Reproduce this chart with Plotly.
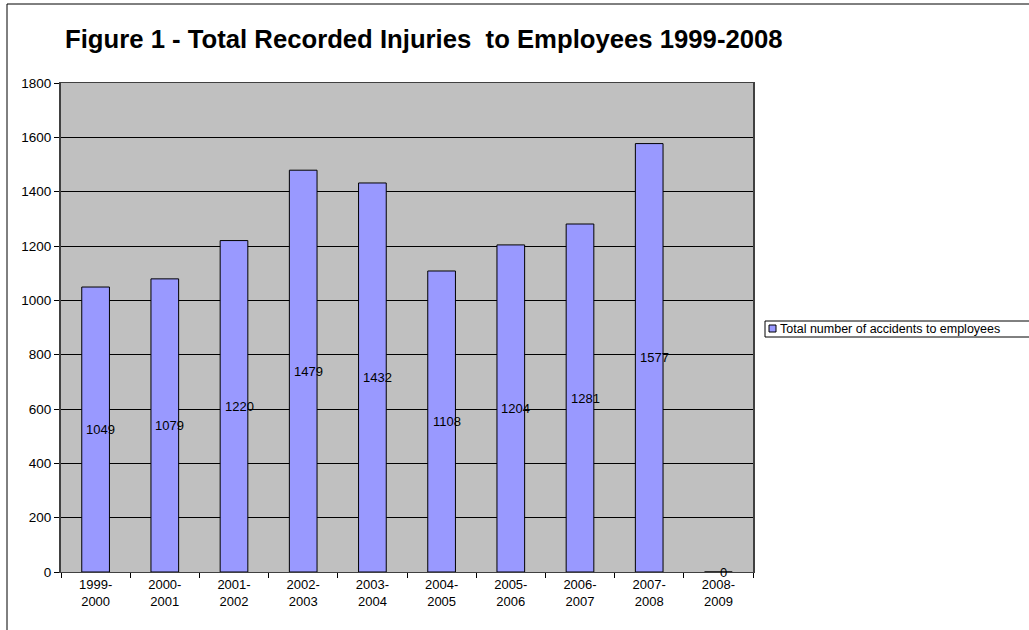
import plotly.graph_objects as go

# Reporting years and recorded injury totals
years = ["1999-<br>2000", "2000-<br>2001", "2001-<br>2002", "2002-<br>2003", "2003-<br>2004",
         "2004-<br>2005", "2005-<br>2006", "2006-<br>2007", "2007-<br>2008", "2008-<br>2009"]
injuries = [1049, 1079, 1220, 1479, 1432, 1108, 1204, 1281, 1577, 0]
y_ticks = [0, 200, 400, 600, 800, 1000, 1200, 1400, 1600, 1800]
series_name = "Total number of accidents to employees"

FONT = "Liberation Sans, Arial, sans-serif"
BAR_COLOR = "#9999FF"

# Plot-area geometry in pixels
W, H = 1029, 630
L, R, T, B = 61, 753, 83, 572
PW, PH = R - L, B - T


def px(x):
    return (x - L) / PW


def py(y):
    return (B - y) / PH


fig = go.Figure()
fig.add_trace(go.Bar(
    x=years, y=injuries, name=series_name, showlegend=False,
    marker=dict(color=BAR_COLOR, line=dict(color="black", width=1)),
    width=0.4,
))

# Value labels at the middle of each bar
for cat, val in zip(years, injuries):
    fig.add_annotation(x=cat, y=val / 2, text=str(val), showarrow=False,
                       xshift=5, font=dict(family=FONT, size=13, color="black"))

# Outer chart frame
fig.add_shape(type="rect", xref="paper", yref="paper",
              x0=px(7), x1=px(1040), y0=py(640), y1=py(4),
              line=dict(color="black", width=1), fillcolor="rgba(0,0,0,0)", layer="below")

# Legend: box, swatch and label
fig.add_shape(type="rect", xref="paper", yref="paper",
              x0=px(765), x1=px(1040), y0=py(337), y1=py(321),
              line=dict(color="black", width=1), fillcolor="white")
fig.add_shape(type="rect", xref="paper", yref="paper",
              x0=px(769), x1=px(776), y0=py(332), y1=py(325),
              line=dict(color="black", width=1), fillcolor=BAR_COLOR)
fig.add_annotation(xref="paper", yref="paper", x=px(778), y=py(329),
                   xanchor="left", yanchor="middle", text=series_name, showarrow=False,
                   font=dict(family=FONT, size=12.5, color="black"))

fig.update_layout(
    width=W, height=H,
    margin=dict(l=L, r=W - R, t=T, b=H - B),
    paper_bgcolor="white",
    plot_bgcolor="#C0C0C0",
    font=dict(family=FONT, size=13, color="black"),
    title=dict(text="<b>Figure 1 - Total Recorded Injuries  to Employees 1999-2008</b>",
               x=65 / W, xanchor="left", y=1 - 39 / H, yanchor="middle",
               font=dict(family=FONT, size=25.7, color="black")),
    showlegend=False,
    bargap=0.6,
)

fig.update_xaxes(
    type="category", tickson="boundaries", ticks="outside", ticklen=5, tickcolor="black",
    showline=True, linecolor="#404040", linewidth=1, mirror=True,
    showgrid=False, tickfont=dict(family=FONT, size=13, color="black"),
)
fig.update_yaxes(
    range=[0, 1800], tickvals=y_ticks, ticks="outside", ticklen=5, tickcolor="black",
    showline=True, linecolor="#404040", linewidth=2, mirror=True,
    showgrid=True, gridcolor="black", gridwidth=1, zeroline=False,
    tickfont=dict(family=FONT, size=13.5, color="black"),
)

fig.write_html("out.html")
